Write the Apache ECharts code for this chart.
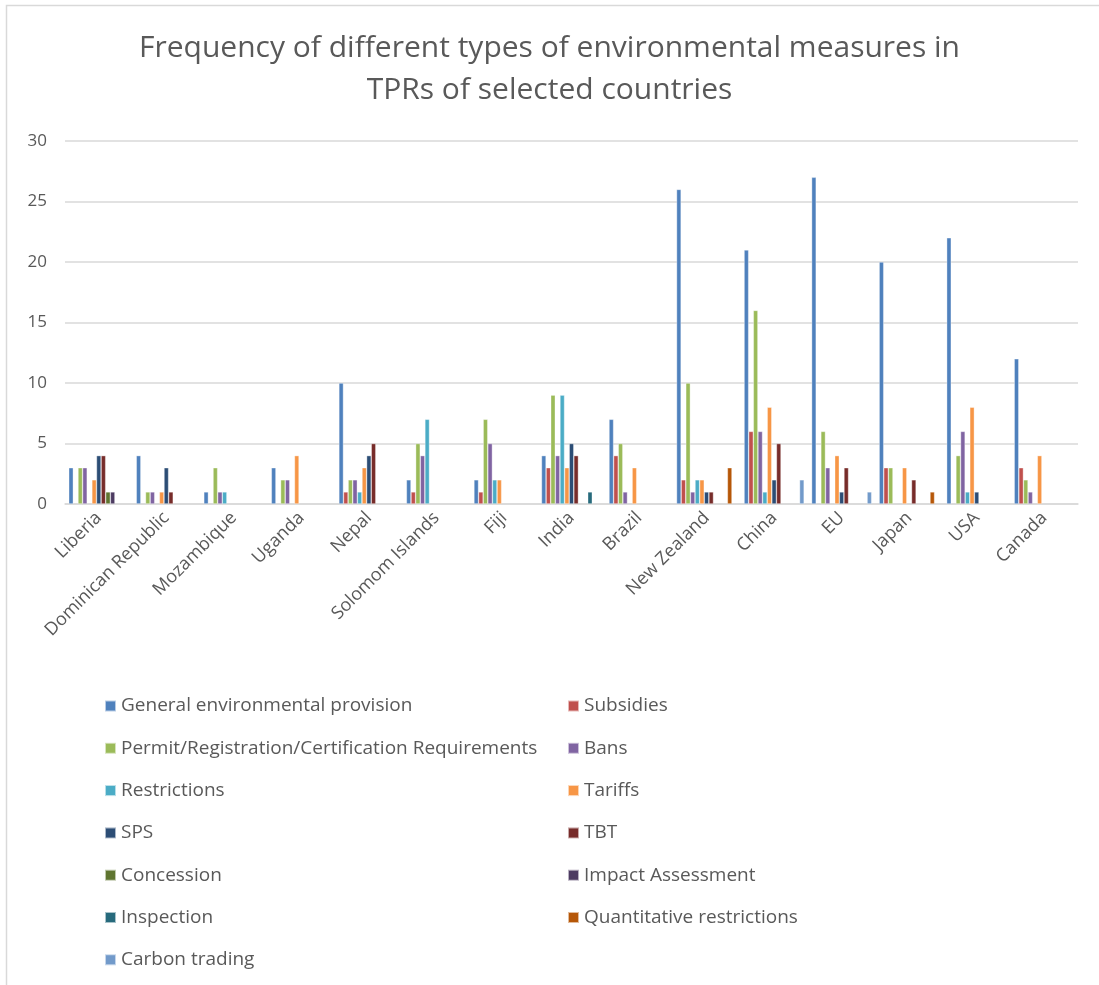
<!DOCTYPE html>
<html>
<head>
<meta charset="utf-8">
<script src="https://cdn.jsdelivr.net/npm/echarts@6/dist/echarts.min.js"></script>
<style>
  html, body { margin: 0; padding: 0; background: #fff; }
  #chart { width: 1099px; height: 985px; }
</style>
</head>
<body>
<div id="chart"></div>
<script>
// Countries reviewed
const categories = ['Liberia', 'Dominican Republic', 'Mozambique', 'Uganda', 'Nepal', 'Solomom Islands', 'Fiji', 'India', 'Brazil', 'New Zealand', 'China', 'EU', 'Japan', 'USA', 'Canada'];

// Counts per measure type, one value per country (same order as categories)
const generalProvision   = [3, 4, 1, 3, 10, 2, 2, 4, 7, 26, 21, 27, 20, 22, 12];
const subsidies          = [0, 0, 0, 0, 1, 1, 1, 3, 4, 2, 6, 0, 3, 0, 3];
const permitRequirements = [3, 1, 3, 2, 2, 5, 7, 9, 5, 10, 16, 6, 3, 4, 2];
const bans               = [3, 1, 1, 2, 2, 4, 5, 4, 1, 1, 6, 3, 0, 6, 1];
const restrictions       = [0, 0, 1, 0, 1, 7, 2, 9, 0, 2, 1, 0, 0, 1, 0];
const tariffs            = [2, 1, 0, 4, 3, 0, 2, 3, 3, 2, 8, 4, 3, 8, 4];
const sps                = [4, 3, 0, 0, 4, 0, 0, 5, 0, 1, 2, 1, 0, 1, 0];
const tbt                = [4, 1, 0, 0, 5, 0, 0, 4, 0, 1, 5, 3, 2, 0, 0];
const concession         = [1, 0, 0, 0, 0, 0, 0, 0, 0, 0, 0, 0, 0, 0, 0];
const impactAssessment   = [1, 0, 0, 0, 0, 0, 0, 0, 0, 0, 0, 0, 0, 0, 0];
const inspection         = [0, 0, 0, 0, 0, 0, 0, 1, 0, 0, 0, 0, 0, 0, 0];
const quantitativeRestr  = [0, 0, 0, 0, 0, 0, 0, 0, 0, 3, 0, 0, 1, 0, 0];
const carbonTrading      = [0, 0, 0, 0, 0, 0, 0, 0, 0, 0, 2, 1, 0, 0, 0];

const seriesNames = ['General environmental provision', 'Subsidies', 'Permit/Registration/Certification Requirements', 'Bans', 'Restrictions', 'Tariffs', 'SPS', 'TBT', 'Concession', 'Impact Assessment', 'Inspection', 'Quantitative restrictions', 'Carbon trading'];
const seriesValues = [generalProvision, subsidies, permitRequirements, bans, restrictions, tariffs, sps, tbt, concession, impactAssessment, inspection, quantitativeRestr, carbonTrading];
const seriesColors = ['#4F81BD', '#C0504D', '#9BBB59', '#8064A2', '#4BACC6', '#F79646', '#2C4D75', '#772C2A', '#5F7530', '#4D3B62', '#276A7C', '#B65708', '#729ACA'];

const yTicks = { min: 0, max: 30, interval: 5 };

const textColor = '#595959';
const fontFamily = '"Open Sans", "Liberation Sans", sans-serif';

const series = seriesNames.map((name, i) => ({
  name: name,
  type: 'bar',
  data: seriesValues[i].map(v => v === 0 ? null : v),
  barGap: '0%',
  barCategoryGap: '11%',
  itemStyle: { color: seriesColors[i], borderColor: 'rgba(255,255,255,0.6)', borderWidth: 0.6 }
}));

// Two-column legend: even-indexed names on the left, odd-indexed on the right
const legendText = { color: textColor, fontSize: 19, fontFamily: fontFamily, lineHeight: 22 };
const legendCommon = {
  orient: 'vertical',
  top: 695,
  padding: 0,
  icon: 'rect',
  itemWidth: 11,
  itemHeight: 11,
  itemGap: 20.3,
  textStyle: legendText,
  selectedMode: false
};

const option = {
  backgroundColor: '#ffffff',
  animation: false,
  title: {
    text: 'Frequency of different types of environmental measures in\nTPRs of selected countries',
    left: 'center',
    top: 22,
    textStyle: { color: textColor, fontSize: 30, fontWeight: 'normal', fontFamily: fontFamily, lineHeight: 42 }
  },
  legend: [
    Object.assign({ left: 104, data: seriesNames.filter((_, i) => i % 2 === 0) }, legendCommon),
    Object.assign({ left: 567, data: seriesNames.filter((_, i) => i % 2 === 1) }, legendCommon)
  ],
  // Thin outer frame of the chart area
  graphic: [{
    type: 'rect',
    shape: { x: 6.5, y: 5.5, width: 1200, height: 1100 },
    style: { fill: null, stroke: '#d9d9d9', lineWidth: 1.5 },
    silent: true
  }],
  grid: { left: 65, right: 21, top: 141, bottom: 481, containLabel: false },
  xAxis: {
    type: 'category',
    data: categories,
    axisLine: { lineStyle: { color: '#d9d9d9', width: 1.5 } },
    axisTick: { show: false },
    axisLabel: { rotate: 45, color: textColor, fontSize: 18, fontFamily: fontFamily, margin: 11, interval: 0 }
  },
  yAxis: {
    type: 'value',
    min: yTicks.min,
    max: yTicks.max,
    interval: yTicks.interval,
    axisLine: { show: false },
    axisTick: { show: false },
    axisLabel: { color: textColor, fontSize: 17, fontFamily: fontFamily, margin: 18 },
    splitLine: { lineStyle: { color: '#d9d9d9', width: 1.5 } }
  },
  series: series
};

const chart = echarts.init(document.getElementById('chart'), null, { renderer: 'canvas' });
chart.setOption(option);
</script>
</body>
</html>
